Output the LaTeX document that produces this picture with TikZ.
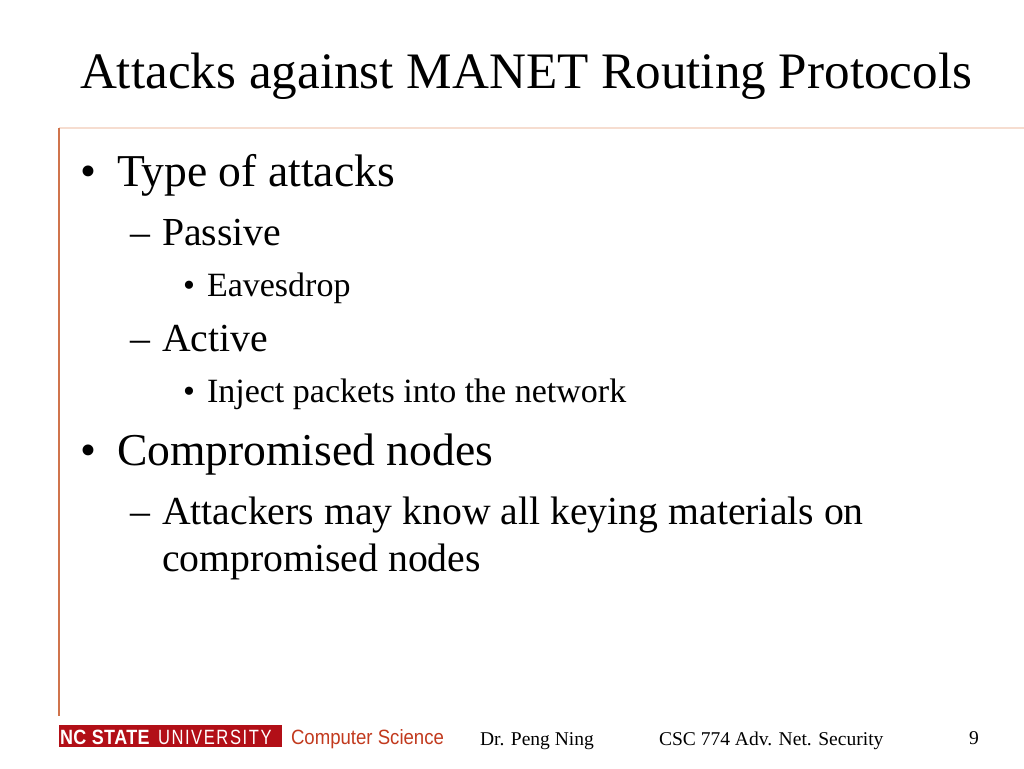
\documentclass[tikz,border=0pt]{standalone}
\usepackage{fontspec}
\setmainfont{Liberation Serif}
\newfontfamily\logosans[FakeStretch=0.80,LetterSpace=7.7]{Liberation Sans}
\newfontfamily\logobold[FakeStretch=0.87,LetterSpace=2]{Liberation Sans}
\newfontfamily\deptsans[FakeStretch=0.90]{Liberation Sans}
\definecolor{ncred}{HTML}{B20F17}
\definecolor{deptred}{HTML}{C23A1E}
\definecolor{vrule}{HTML}{D0744C}
\definecolor{hrule}{HTML}{F6DDD0}
\tikzset{
  txt/.style={anchor=base west,inner sep=0pt,outer sep=0pt,text=black},
  titletxt/.style={txt,font=\fontsize{38.36}{40}\selectfont},
  lone/.style={txt,font=\fontsize{34.2}{36}\selectfont},
  ltwo/.style={txt,font=\fontsize{29.8}{32}\selectfont},
  lthree/.style={txt,font=\fontsize{25.5}{28}\selectfont},
  foot/.style={txt,font=\fontsize{14.65}{16}\selectfont}
}
\begin{document}
\begin{tikzpicture}[x=0.75pt,y=-0.75pt]
\useasboundingbox (0,0) rectangle (1024,768);
\fill[white] (0,0) rectangle (1024,768);
\coordinate (hl) at (59,128); \coordinate (hr) at (1024,128); \coordinate (vb) at (59,716);
\draw[hrule,line width=0.9pt] (hl) -- (hr);
\draw[vrule,line width=1pt] (hl) -- (vb);
\node[titletxt] (title) at (80,88) {Attacks against MANET Routing Protocols};
\node[lone] (b1) at (80,186) {•};
\node[lone] (t1) at (117,186) {Type of attacks};
\node[ltwo] (d1) at (130,245) {–};
\node[ltwo] (t2) at (162,245) {Passive};
\node[lthree] (b2) at (183,296) {•};
\node[lthree] (t3) at (207,296) {Eavesdrop};
\node[ltwo] (d2) at (130,351) {–};
\node[ltwo] (t4) at (162,351) {Active};
\node[lthree] (b3) at (183,402) {•};
\node[lthree] (t5) at (207,402) {Inject packets into the network};
\node[lone] (b4) at (80,465) {•};
\node[lone] (t6) at (117,465) {Compromised nodes};
\node[ltwo] (d3) at (130,524) {–};
\node[ltwo] (t7) at (162,524) {Attackers may know all keying materials on};
\node[ltwo] (t8) at (162,571) {compromised nodes};
\fill[ncred] (59,725) rectangle (282,747);
\node[txt,text=white,font=\logobold\bfseries\fontsize{15.5}{16}\selectfont] (lg1) at (60,744) {NC STATE};
\node[txt,text=white,font=\logosans\fontsize{15.5}{16}\selectfont] (lg2) at (158,744) {UNIVERSITY};
\node[txt,text=deptred,font=\deptsans\fontsize{15.5}{16}\selectfont] (dept) at (291,744) {Computer Science};
\node[foot] (f1) at (480,745) {Dr. Peng Ning};
\node[foot] (f2) at (659,745) {CSC 774 Adv. Net. Security};
\node[foot] (f3) at (969,744) {9};
\end{tikzpicture}
\end{document}
